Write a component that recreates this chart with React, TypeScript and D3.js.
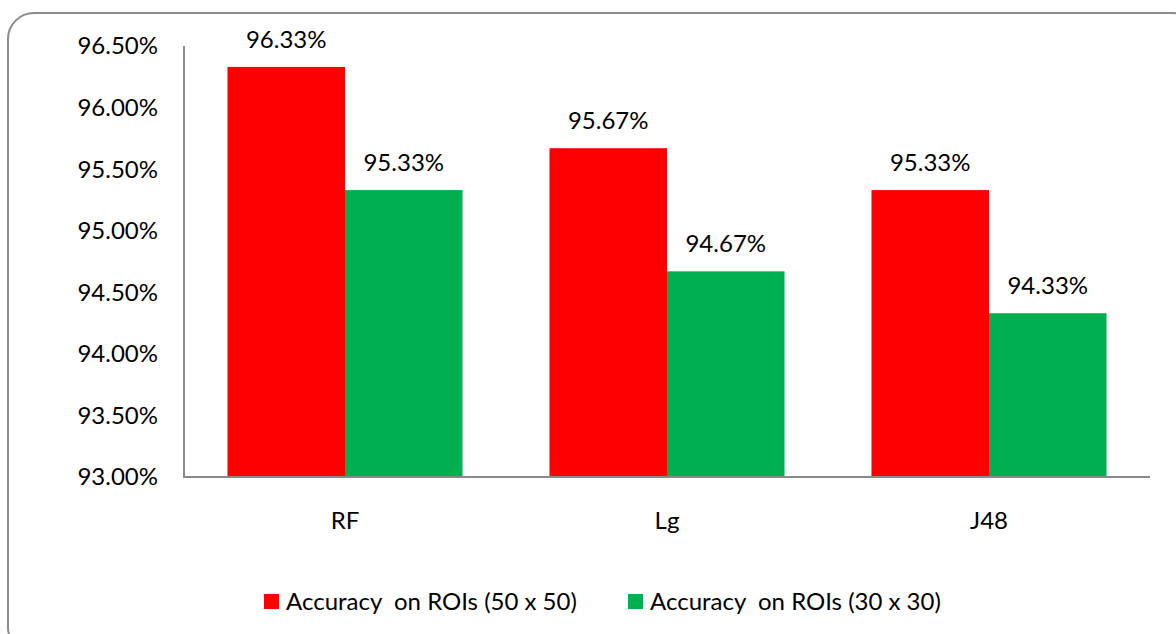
import React, { useEffect, useRef } from 'react';
import * as d3 from 'd3';

const categories = ['RF', 'Lg', 'J48'];
const seriesNames = ['Accuracy  on ROIs (50 x 50)', 'Accuracy  on ROIs (30 x 30)'];
const acc50 = [96.33, 95.67, 95.33];
const acc30 = [95.33, 94.67, 94.33];
const yTicks = [93.0, 93.5, 94.0, 94.5, 95.0, 95.5, 96.0, 96.5];
const colors = ['#ff0000', '#00b050'];

const FONT = 'Lato, "Liberation Sans", sans-serif';

const App = () => {
  const ref = useRef<SVGSVGElement>(null);

  useEffect(() => {
    const svg = d3.select(ref.current);
    svg.selectAll('*').remove();

    // chart frame
    svg.append('rect')
      .attr('x', 8).attr('y', 13)
      .attr('width', 1190).attr('height', 640)
      .attr('rx', 26).attr('ry', 26)
      .attr('fill', '#fff')
      .attr('stroke', '#8c8c8c')
      .attr('stroke-width', 2);

    const left = 184, right = 1150, top = 46, bottom = 477;

    const x = d3.scaleBand().domain(categories).range([left, right]).paddingInner(0).paddingOuter(0);
    const inner = d3.scaleBand().domain(['0', '1']).range([0, x.bandwidth()]).paddingOuter(0.37).paddingInner(0);
    const y = d3.scaleLinear().domain([93, 96.5]).range([bottom, top]);

    const series = [acc50, acc30];

    series.forEach((vals, si) => {
      svg.append('g').selectAll('rect')
        .data(vals)
        .enter()
        .append('rect')
          .attr('x', (d, i) => x(categories[i])! + inner(String(si))!)
          .attr('y', d => y(d))
          .attr('width', inner.bandwidth())
          .attr('height', d => bottom - y(d))
          .attr('fill', colors[si]);

      svg.append('g').selectAll('text')
        .data(vals)
        .enter()
        .append('text')
          .attr('x', (d, i) => x(categories[i])! + inner(String(si))! + inner.bandwidth() / 2)
          .attr('y', d => y(d) - 19)
          .attr('text-anchor', 'middle')
          .style('font-family', FONT)
          .style('font-size', '24px')
          .attr('fill', '#000')
          .text(d => `${d.toFixed(2)}%`);
    });

    // axes
    const axis = svg.append('g');
    axis.append('line')
      .attr('x1', left).attr('x2', left).attr('y1', top).attr('y2', bottom)
      .attr('stroke', '#898989').attr('stroke-width', 2);
    axis.append('line')
      .attr('x1', left - 1).attr('x2', right).attr('y1', bottom).attr('y2', bottom)
      .attr('stroke', '#898989').attr('stroke-width', 2);

    axis.selectAll('.ytick')
      .data(yTicks)
      .enter()
      .append('text')
        .attr('x', 158)
        .attr('y', d => y(d))
        .attr('dy', '0.35em')
        .attr('text-anchor', 'end')
        .style('font-family', FONT)
        .style('font-size', '24px')
        .text(d => `${d.toFixed(2)}%`);

    axis.selectAll('.xtick')
      .data(categories)
      .enter()
      .append('text')
        .attr('x', d => x(d)! + x.bandwidth() / 2)
        .attr('y', 529)
        .attr('text-anchor', 'middle')
        .style('font-family', FONT)
        .style('font-size', '24px')
        .text(d => d);

    // legend
    const legendX = [264, 628];
    const legend = svg.append('g');
    seriesNames.forEach((name, i) => {
      legend.append('rect')
        .attr('x', legendX[i]).attr('y', 594)
        .attr('width', 15).attr('height', 15)
        .attr('fill', colors[i]);
      legend.append('text')
        .attr('x', legendX[i] + 22)
        .attr('y', 610)
        .style('font-family', FONT)
        .style('font-size', '24px')
        .style('white-space', 'pre')
        .attr('xml:space', 'preserve')
        .text(name);
    });
  }, []);

  return (
    <svg ref={ref} width={1176} height={634} style={{ position: 'absolute', left: 0, top: 0 }} />
  );
};

export default App;
